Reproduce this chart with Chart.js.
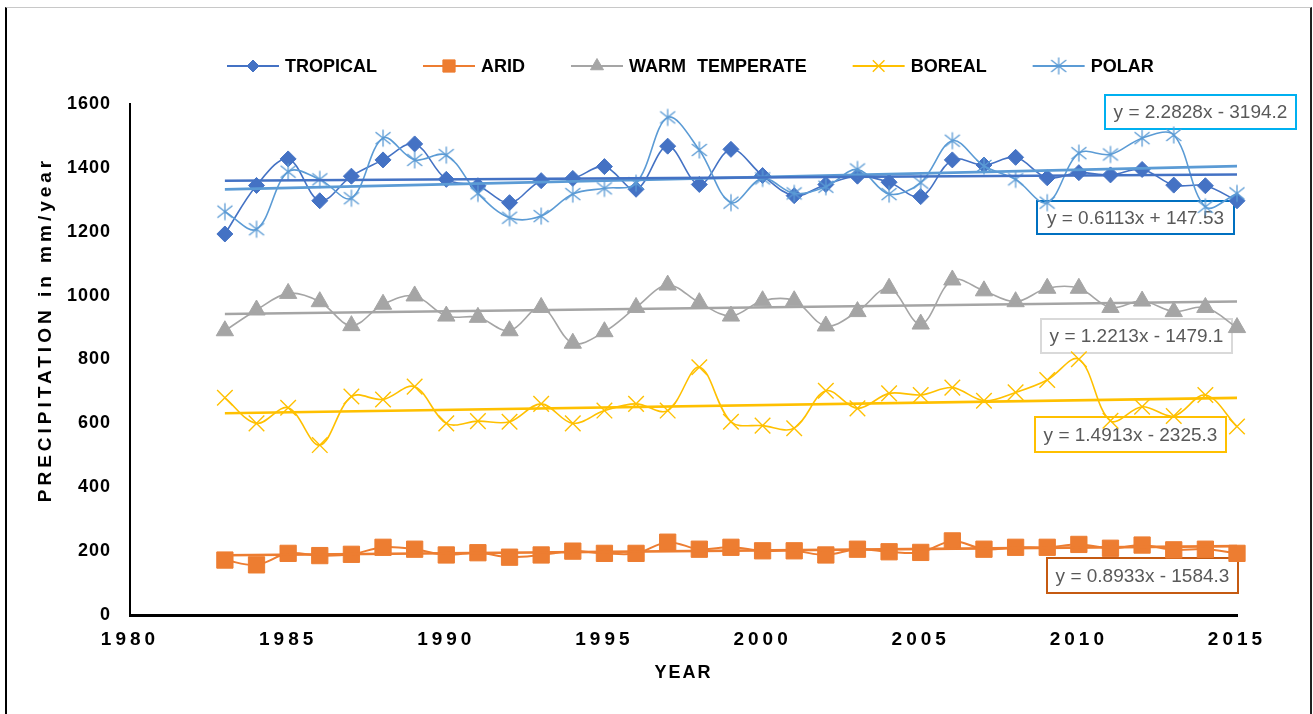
<!DOCTYPE html>
<html>
<head>
<meta charset="utf-8">
<script src="https://cdn.jsdelivr.net/npm/chart.js@4/dist/chart.umd.min.js"></script>
<style>
  html, body { margin: 0; padding: 0; background: #fff; }
  #wrap { position: relative; width: 1313px; height: 714px; overflow: hidden; }
  #frame { position: absolute; left: 5px; top: 7px; width: 1303px; height: 720px;
           border-top: 1px solid #c8c8c8; border-left: 2px solid #000; border-right: 2px solid #222; pointer-events: none; }
  canvas { position: absolute; left: 0; top: 0; }
</style>
</head>
<body>
<div id="wrap">
  <div id="frame"></div>
  <canvas id="c" width="1313" height="714"></canvas>
</div>
<script>
// ---------- DATA ----------
const years = [1983,1984,1985,1986,1987,1988,1989,1990,1991,1992,1993,1994,1995,1996,1997,1998,1999,2000,2001,2002,2003,2004,2005,2006,2007,2008,2009,2010,2011,2012,2013,2014,2015];
const seriesNames = ['TROPICAL', 'ARID', 'WARM TEMPERATE', 'BOREAL', 'POLAR'];
const tropical = [1193,1345,1428,1297,1374,1425,1475,1364,1344,1291,1360,1367,1404,1333,1468,1348,1458,1376,1313,1348,1374,1355,1310,1425,1409,1433,1369,1385,1378,1395,1346,1344,1297];
const arid     = [172,157,193,186,190,212,206,188,195,181,188,200,193,193,228,206,212,201,201,188,206,198,196,232,206,212,212,221,209,219,204,206,193];
const warmTemperate = [890,955,1007,981,906,973,999,936,932,890,963,851,887,963,1033,978,936,984,984,905,950,1023,911,1049,1015,981,1023,1023,963,983,950,963,900];
const boreal   = [680,600,649,532,684,675,715,600,607,605,661,600,640,661,640,776,605,593,585,702,647,694,689,712,671,697,736,801,608,652,623,689,590];
const polar    = [1263,1208,1388,1364,1305,1493,1425,1440,1320,1244,1249,1318,1336,1352,1558,1456,1291,1367,1320,1341,1395,1318,1354,1485,1406,1364,1291,1446,1442,1493,1503,1278,1320];
// linear trend lines (endpoints at first and last year), and their equations
const trendYears = [1983, 2015];
const trendTropical = [1359.7, 1379.3];
const trendArid     = [187.1, 215.7];
const trendWarm     = [942.7, 981.8];
const trendBoreal   = [631.9, 679.7];
const trendPolar    = [1332.6, 1405.6];
const equations = ['y = 0.6113x + 147.53', 'y = 0.8933x - 1584.3', 'y = 1.2213x - 1479.1', 'y = 1.4913x - 2325.3', 'y = 2.2828x - 3194.2'];
const xTicks = [1980, 1985, 1990, 1995, 2000, 2005, 2010, 2015];
const yTicks = [0, 200, 400, 600, 800, 1000, 1200, 1400, 1600];

// ---------- STYLES ----------
const COLORS = ['#4472C4', '#ED7D31', '#A5A5A5', '#FFC000', '#5B9BD5'];
const TREND_COLORS = ['#4472C4', '#ED7D31', '#A5A5A5', '#FFC000', '#5B9BD5'];
const BOX_COLORS = ['#0070C0', '#C55A11', '#D9D9D9', '#FFC000', '#00B0F0'];
const BOX_POS = [ // x, y, w, h of the equation labels (pixels)
  [1037, 201, 197, 33], [1047, 558, 191, 35], [1041, 319, 191, 34], [1035, 417, 191, 35], [1105, 95, 191, 34]
];
const FONT = '"Liberation Sans", Arial, sans-serif';

function makeAsterisk(color) {
  const c = document.createElement('canvas');
  c.width = 20; c.height = 20;
  const g = c.getContext('2d');
  g.strokeStyle = color; g.lineWidth = 1.3; g.lineCap = 'butt';
  g.beginPath();
  g.moveTo(10, 1.5); g.lineTo(10, 18.5);
  g.moveTo(2.5, 4); g.lineTo(17.5, 16);
  g.moveTo(17.5, 4); g.lineTo(2.5, 16);
  g.stroke();
  return c;
}
const asterisk = makeAsterisk(COLORS[4]);

const valuesList = [tropical, arid, warmTemperate, boreal, polar];
const trendList = [trendTropical, trendArid, trendWarm, trendBoreal, trendPolar];
const markers = [
  { pointStyle: 'rectRot', radius: 8, borderWidth: 1 },
  { pointStyle: 'rect', radius: 11.5, borderWidth: 1 },
  { pointStyle: 'triangle', radius: 10, borderWidth: 1 },
  { pointStyle: 'crossRot', radius: 11, borderWidth: 1.4 },
  { pointStyle: asterisk, radius: 10, borderWidth: 1 }
];
const lineWidths = [1.6, 2, 1.6, 1.6, 1.6];
const orders = [5, 4, 3, 2, 1];

const datasets = [];
valuesList.forEach((vals, i) => {
  datasets.push({
    label: seriesNames[i],
    data: years.map((yr, k) => ({ x: yr, y: vals[k] })),
    borderColor: COLORS[i],
    backgroundColor: COLORS[i],
    pointBackgroundColor: COLORS[i],
    pointBorderColor: COLORS[i],
    borderWidth: lineWidths[i],
    pointStyle: markers[i].pointStyle,
    pointRadius: markers[i].radius,
    pointBorderWidth: markers[i].borderWidth,
    tension: 0.35,
    clip: false,
    order: orders[i],
    _legend: true,
    _marker: markers[i]
  });
});
trendList.forEach((t, i) => {
  datasets.push({
    label: seriesNames[i] + ' trend',
    data: trendYears.map((yr, k) => ({ x: yr, y: t[k] })),
    borderColor: TREND_COLORS[i],
    borderWidth: 2.6,
    pointRadius: 0,
    tension: 0,
    clip: false,
    order: 0
  });
});

// ---------- PLUGINS ----------
const spacingPlugin = {
  id: 'spacing',
  beforeDraw(chart) {
    const xs = chart.scales.x, ys = chart.scales.y;
    if (!xs._patched) {
      const dl = xs.drawLabels, dt = xs.drawTitle;
      xs.drawLabels = function (a) { const c = this.ctx; c.save(); c.letterSpacing = '4px'; dl.call(this, a); c.restore(); };
      xs.drawTitle = function (a) { const c = this.ctx; c.save(); c.letterSpacing = '2px'; dt.call(this, a); c.restore(); };
      xs._patched = true;
    }
    if (!ys._patched) {
      const dl = ys.drawLabels, dt = ys.drawTitle;
      ys.drawLabels = function (a) { const c = this.ctx; c.save(); c.letterSpacing = '1px'; c.translate(1, 0); dl.call(this, a); c.restore(); };
      ys.drawTitle = function (a) { const c = this.ctx; c.save(); c.letterSpacing = '4px'; c.translate(1, -30); dt.call(this, a); c.restore(); };
      ys._patched = true;
    }
  }
};

const eqPlugin = {
  id: 'equations',
  beforeDatasetsDraw(chart) {
    const ctx = chart.ctx;
    ctx.save();
    equations.forEach((txt, i) => {
      const [x, y, w, h] = BOX_POS[i];
      ctx.fillStyle = '#fff';
      ctx.fillRect(x, y, w, h);
      ctx.strokeStyle = BOX_COLORS[i];
      ctx.lineWidth = 2;
      ctx.strokeRect(x, y, w, h);
      ctx.fillStyle = '#595959';
      ctx.font = '19px ' + FONT;
      ctx.textAlign = 'center';
      ctx.textBaseline = 'middle';
      ctx.fillText(txt, x + w / 2, y + h / 2 + 1);
    });
    ctx.restore();
  }
};

const legendPlugin = {
  id: 'customLegend',
  afterDraw(chart) {
    const ctx = chart.ctx;
    const y = 66;
    let x = 227;
    ctx.save();
    ctx.font = 'bold 18px ' + FONT;
    ctx.wordSpacing = '6px';
    ctx.textBaseline = 'middle';
    ctx.textAlign = 'left';
    chart.data.datasets.filter(d => d._legend).forEach(d => {
      ctx.strokeStyle = d.borderColor;
      ctx.lineWidth = 2;
      ctx.beginPath(); ctx.moveTo(x, y); ctx.lineTo(x + 52, y); ctx.stroke();
      ctx.fillStyle = d.backgroundColor;
      ctx.strokeStyle = d.borderColor;
      ctx.lineWidth = d._marker.borderWidth;
      const r = typeof d._marker.pointStyle === 'string' ? d._marker.radius * 0.75 : d._marker.radius;
      Chart.helpers.drawPoint(ctx, { pointStyle: d._marker.pointStyle, radius: r, rotation: 0, borderWidth: d._marker.borderWidth }, x + 26, y);
      ctx.fillStyle = '#000';
      ctx.fillText(d.label, x + 58, y + 1);
      x += 58 + ctx.measureText(d.label).width + 46;
    });
    ctx.restore();
  }
};

new Chart(document.getElementById('c'), {
  type: 'line',
  data: { datasets },
  options: {
    responsive: false,
    animation: false,
    events: [],
    devicePixelRatio: 1,
    layout: { padding: { top: 104, right: 76, bottom: 0, left: 0 } },
    plugins: { legend: { display: false }, tooltip: { enabled: false } },
    scales: {
      x: {
        type: 'linear',
        min: xTicks[0], max: xTicks[xTicks.length - 1],
        afterBuildTicks: (s) => { s.ticks = xTicks.map(v => ({ value: v })); },
        afterFit: (s) => { s.height = 99; },
        grid: { display: false, drawTicks: false },
        border: { display: true, color: '#000', width: 3 },
        ticks: { color: '#000', padding: 13, font: { family: FONT, size: 19, weight: 'bold' }, callback: (v) => String(v), maxRotation: 0, autoSkip: false },
        title: { display: true, text: 'YEAR', color: '#000', font: { family: FONT, size: 18, weight: 'bold' }, padding: { top: 0, bottom: 30 } }
      },
      y: {
        type: 'linear',
        min: yTicks[0], max: yTicks[yTicks.length - 1],
        afterBuildTicks: (s) => { s.ticks = yTicks.map(v => ({ value: v })); },
        afterFit: (s) => { s.width = 130; },
        grid: { display: false, drawTicks: false },
        border: { display: true, color: '#000', width: 2 },
        ticks: { color: '#000', padding: 20, font: { family: FONT, size: 18, weight: 'bold' }, callback: (v) => String(v), autoSkip: false },
        title: { display: true, text: 'PRECIPITATION in mm/year', color: '#000', font: { family: FONT, size: 19, weight: 'bold' }, padding: { top: 33, bottom: 0 } }
      }
    }
  },
  plugins: [spacingPlugin, eqPlugin, legendPlugin]
});
</script>
</body>
</html>
